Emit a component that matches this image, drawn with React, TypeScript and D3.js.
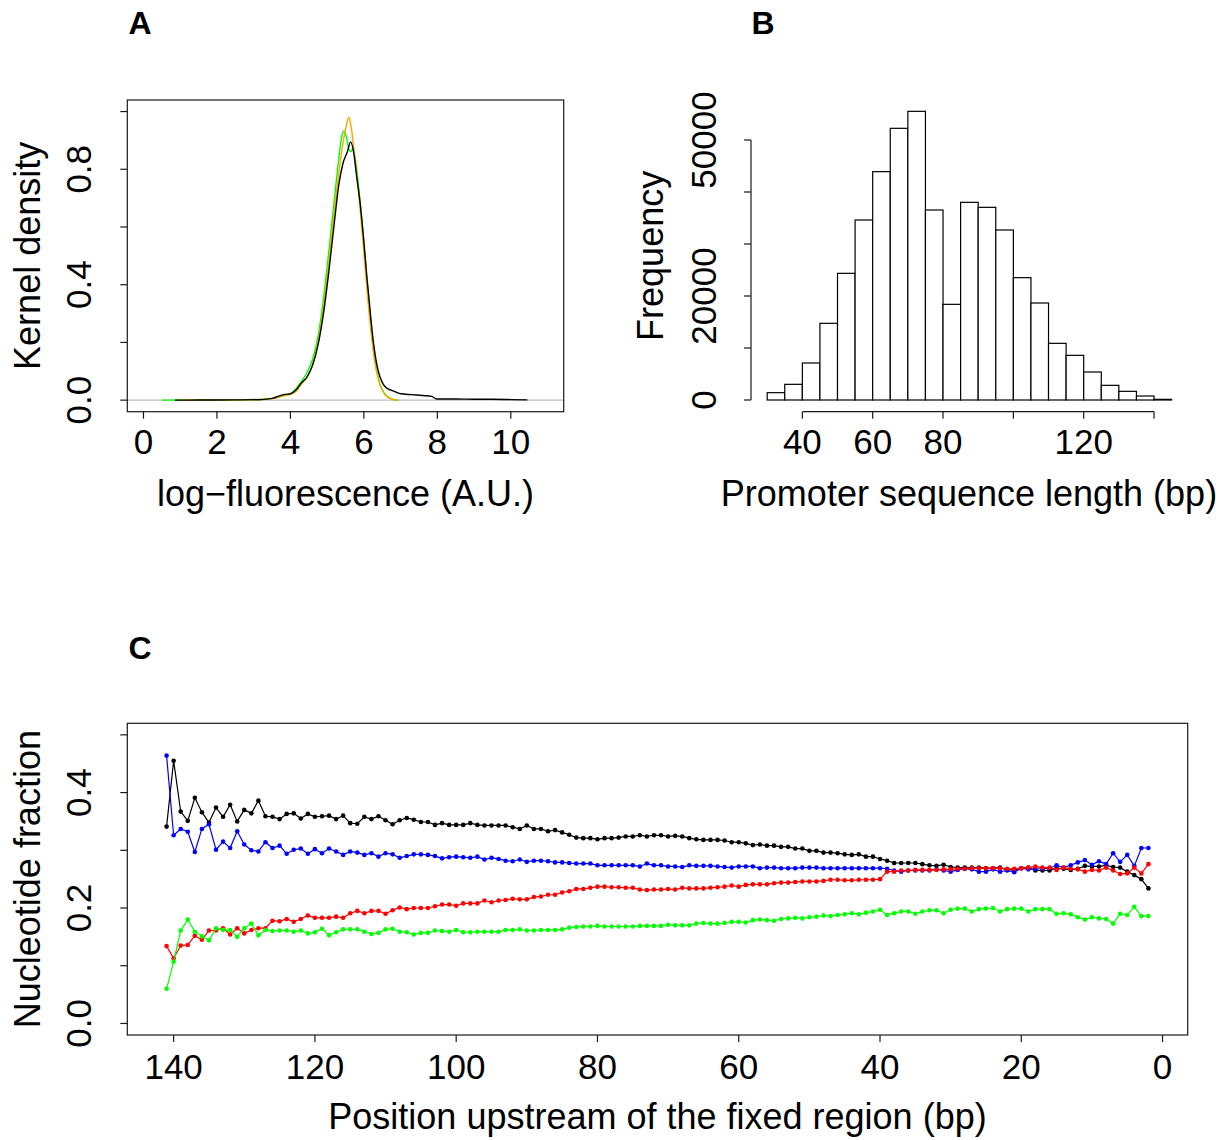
import React from "react";
import * as d3 from "d3";

// ---------- Panel A: kernel densities ----------
const blackDensX = [0.86, 1.5, 2.5, 3.2, 3.5, 3.7, 3.85, 4.0, 4.15, 4.3, 4.45, 4.6, 4.75, 4.9, 5.05, 5.2, 5.31, 5.43, 5.55, 5.64, 5.72, 5.8, 5.9, 6.0, 6.08, 6.17, 6.26, 6.35, 6.44, 6.53, 6.62, 6.8, 7.0, 7.3, 7.6, 7.85, 7.98, 8.5, 9.0, 9.5, 10.0, 10.45];
const blackDensY = [0, 0.0005, 0.001, 0.002, 0.006, 0.015, 0.02, 0.022, 0.035, 0.06, 0.08, 0.12, 0.19, 0.3, 0.45, 0.62, 0.74, 0.82, 0.86, 0.895, 0.86, 0.78, 0.68, 0.55, 0.43, 0.31, 0.2, 0.125, 0.08, 0.055, 0.042, 0.032, 0.022, 0.019, 0.016, 0.013, 0.004, 0.004, 0.003, 0.003, 0.002, 0.001];
const orangeDensX = [1.0, 2.5, 3.3, 3.6, 3.8, 4.0, 4.15, 4.3, 4.45, 4.6, 4.75, 4.9, 5.05, 5.2, 5.34, 5.43, 5.52, 5.59, 5.65, 5.71, 5.8, 5.9, 6.0, 6.1, 6.2, 6.3, 6.4, 6.5, 6.6, 6.75, 6.9];
const orangeDensY = [0, 0.001, 0.003, 0.008, 0.015, 0.02, 0.03, 0.055, 0.08, 0.12, 0.2, 0.32, 0.48, 0.66, 0.81, 0.89, 0.95, 0.98, 0.95, 0.89, 0.786, 0.66, 0.51, 0.36, 0.23, 0.13, 0.07, 0.035, 0.015, 0.004, 0];
const greenDensX = [0.5, 1.5, 2.5, 3.3, 3.6, 3.8, 4.0, 4.15, 4.3, 4.45, 4.6, 4.75, 4.9, 5.05, 5.2, 5.32, 5.4, 5.46, 5.52, 5.58, 5.64, 5.7, 5.76, 5.84, 5.94, 6.04, 6.14, 6.24, 6.34, 6.44, 6.55, 6.7, 6.85, 6.95];
const greenDensY = [0, 0.0005, 0.001, 0.003, 0.008, 0.015, 0.022, 0.04, 0.065, 0.095, 0.14, 0.22, 0.35, 0.52, 0.7, 0.84, 0.915, 0.933, 0.915, 0.875, 0.861, 0.87, 0.84, 0.76, 0.63, 0.48, 0.33, 0.2, 0.11, 0.055, 0.025, 0.008, 0.001, 0];
const aXTicks = [0, 2, 4, 6, 8, 10];
const aYTicks = [0, 0.2, 0.4, 0.6, 0.8, 1.0];
const aYLabels = ["0.0", "", "0.4", "", "0.8", ""];

// ---------- Panel B: histogram ----------
const binStarts = [30, 35, 40, 45, 50, 55, 60, 65, 70, 75, 80, 85, 90, 95, 100, 105, 110, 115, 120, 125, 130, 135, 140];
const binCounts = [1410, 3013, 7115, 14744, 24359, 34615, 43910, 52244, 55513, 36538, 18397, 38013, 37051, 32692, 23526, 18654, 10897, 8590, 5385, 2821, 1667, 769, 128];
const binWidth = 5;
const bXTicks = [40, 60, 80, 100, 120, 140];
const bXLabels = ["40", "60", "80", "", "120", ""];
const bYTicks = [0, 10000, 20000, 30000, 40000, 50000];
const bYLabels = ["0", "", "20000", "", "", "50000"];

// ---------- Panel C: nucleotide fractions, positions 141 -> 2 ----------
const positions = d3.range(141, 1, -1);
const fracBlack = [
  0.341, 0.455, 0.367, 0.351, 0.391, 0.366, 0.348, 0.374, 0.358, 0.379, 0.350, 0.370, 0.364, 0.386, 0.359, 0.358, 0.354, 0.363, 0.364, 0.355, 0.363, 0.358, 0.359, 0.360, 0.354,
  0.360, 0.347, 0.346, 0.358, 0.354, 0.359, 0.352, 0.345, 0.352, 0.356, 0.353, 0.349, 0.349, 0.344, 0.347, 0.344, 0.344, 0.344, 0.347, 0.344, 0.343, 0.343, 0.343, 0.343, 0.340,
  0.337, 0.343, 0.337, 0.337, 0.333, 0.335, 0.331, 0.327, 0.322, 0.321, 0.321, 0.319, 0.321, 0.321, 0.322, 0.324, 0.324, 0.326, 0.324, 0.326, 0.326, 0.324, 0.325, 0.324, 0.321,
  0.319, 0.318, 0.318, 0.318, 0.317, 0.314, 0.314, 0.312, 0.309, 0.310, 0.308, 0.308, 0.306, 0.306, 0.303, 0.303, 0.299, 0.299, 0.296, 0.296, 0.295, 0.293, 0.292, 0.293, 0.289,
  0.289, 0.285, 0.282, 0.278, 0.278, 0.278, 0.278, 0.276, 0.274, 0.273, 0.275, 0.271, 0.270, 0.270, 0.270, 0.270, 0.269, 0.269, 0.270, 0.266, 0.266, 0.269, 0.270, 0.265,
  0.265, 0.265, 0.269, 0.268, 0.266, 0.268, 0.273, 0.272, 0.272, 0.274, 0.271, 0.270, 0.263, 0.257, 0.250, 0.234,
];
const fracBlue = [
  0.464, 0.326, 0.337, 0.332, 0.297, 0.337, 0.345, 0.301, 0.315, 0.304, 0.333, 0.310, 0.300, 0.298, 0.314, 0.304, 0.308, 0.294, 0.301, 0.303, 0.294, 0.302, 0.295, 0.303, 0.298,
  0.292, 0.298, 0.296, 0.292, 0.295, 0.289, 0.295, 0.293, 0.287, 0.290, 0.293, 0.293, 0.292, 0.290, 0.286, 0.288, 0.289, 0.288, 0.287, 0.289, 0.284, 0.287, 0.285, 0.282, 0.281,
  0.284, 0.280, 0.282, 0.282, 0.281, 0.279, 0.279, 0.278, 0.277, 0.277, 0.277, 0.274, 0.274, 0.274, 0.274, 0.274, 0.274, 0.272, 0.277, 0.274, 0.274, 0.272, 0.272, 0.271, 0.274,
  0.273, 0.273, 0.273, 0.272, 0.271, 0.270, 0.272, 0.272, 0.272, 0.269, 0.270, 0.270, 0.269, 0.269, 0.269, 0.270, 0.270, 0.270, 0.269, 0.269, 0.269, 0.269, 0.269, 0.269, 0.269,
  0.269, 0.269, 0.268, 0.265, 0.263, 0.265, 0.265, 0.265, 0.265, 0.267, 0.265, 0.263, 0.266, 0.268, 0.267, 0.263, 0.263, 0.267, 0.263, 0.265, 0.262, 0.269, 0.267, 0.268,
  0.268, 0.269, 0.274, 0.270, 0.274, 0.279, 0.283, 0.275, 0.281, 0.276, 0.295, 0.280, 0.292, 0.273, 0.304, 0.304,
];
const fracRed = [
  0.134, 0.113, 0.135, 0.136, 0.152, 0.145, 0.161, 0.161, 0.165, 0.154, 0.165, 0.156, 0.162, 0.165, 0.165, 0.178, 0.177, 0.181, 0.176, 0.181, 0.187, 0.183, 0.183, 0.183, 0.185,
  0.183, 0.191, 0.195, 0.191, 0.195, 0.195, 0.190, 0.196, 0.201, 0.198, 0.200, 0.200, 0.200, 0.203, 0.206, 0.206, 0.204, 0.208, 0.208, 0.208, 0.213, 0.210, 0.213, 0.214, 0.216,
  0.215, 0.215, 0.219, 0.220, 0.223, 0.223, 0.227, 0.229, 0.233, 0.233, 0.235, 0.237, 0.237, 0.236, 0.236, 0.235, 0.235, 0.232, 0.231, 0.232, 0.232, 0.233, 0.232, 0.235, 0.234,
  0.234, 0.234, 0.235, 0.236, 0.237, 0.239, 0.237, 0.240, 0.241, 0.241, 0.241, 0.243, 0.244, 0.244, 0.245, 0.246, 0.246, 0.246, 0.247, 0.249, 0.249, 0.248, 0.248, 0.249, 0.249,
  0.249, 0.250, 0.263, 0.263, 0.265, 0.265, 0.266, 0.266, 0.266, 0.266, 0.267, 0.267, 0.268, 0.268, 0.269, 0.269, 0.269, 0.269, 0.269, 0.268, 0.268, 0.269, 0.270, 0.272,
  0.270, 0.270, 0.266, 0.270, 0.268, 0.267, 0.263, 0.266, 0.265, 0.270, 0.265, 0.259, 0.260, 0.270, 0.260, 0.276,
];
const fracGreen = [
  0.060, 0.107, 0.161, 0.180, 0.159, 0.151, 0.144, 0.165, 0.162, 0.162, 0.150, 0.165, 0.173, 0.153, 0.162, 0.160, 0.161, 0.161, 0.159, 0.161, 0.156, 0.158, 0.164, 0.153, 0.158,
  0.163, 0.163, 0.163, 0.159, 0.155, 0.157, 0.163, 0.164, 0.159, 0.158, 0.154, 0.157, 0.157, 0.161, 0.160, 0.159, 0.162, 0.158, 0.158, 0.159, 0.159, 0.159, 0.159, 0.162, 0.162,
  0.163, 0.161, 0.161, 0.162, 0.162, 0.162, 0.163, 0.166, 0.167, 0.168, 0.168, 0.169, 0.168, 0.168, 0.168, 0.168, 0.168, 0.169, 0.169, 0.169, 0.169, 0.171, 0.170, 0.170, 0.170,
  0.173, 0.174, 0.173, 0.173, 0.174, 0.176, 0.176, 0.175, 0.179, 0.180, 0.179, 0.178, 0.181, 0.182, 0.183, 0.182, 0.184, 0.185, 0.187, 0.186, 0.188, 0.189, 0.191, 0.189, 0.192,
  0.194, 0.197, 0.188, 0.191, 0.194, 0.194, 0.190, 0.194, 0.196, 0.196, 0.191, 0.197, 0.199, 0.199, 0.194, 0.198, 0.199, 0.200, 0.194, 0.198, 0.199, 0.199, 0.194, 0.198,
  0.198, 0.198, 0.190, 0.191, 0.189, 0.184, 0.180, 0.184, 0.182, 0.181, 0.173, 0.190, 0.188, 0.202, 0.186, 0.186,
];
const cXTicks = [140, 120, 100, 80, 60, 40, 20, 0];
const cYTicks = [0, 0.1, 0.2, 0.3, 0.4, 0.5];
const cYLabels = ["0.0", "", "0.2", "", "0.4", ""];

const FONT = "'Liberation Sans', Arial, Helvetica, sans-serif";
const FS = 35;
const FT = 36;
const TICK = 7;

export default function App() {
  // Panel A scales
  const xA = d3.scaleLinear().domain([-0.44, 11.44]).range([127.3, 563.7]);
  const yA = d3.scaleLinear().domain([-0.04, 1.04]).range([411.7, 100]);
  const densLine = d3
    .line<[number, number]>()
    .x((d) => xA(d[0]))
    .y((d) => yA(d[1]))
    .curve(d3.curveMonotoneX);
  const pairs = (xs: number[], ys: number[]) => xs.map((x, i) => [x, ys[i]] as [number, number]);

  // Panel B scales
  const xB = d3.scaleLinear().domain([25.4, 149.6]).range([751, 1187.8]);
  const yB = d3.scaleLinear().domain([0, 50000]).range([400, 140]);

  // Panel C scales
  const xC = d3.scaleLinear().domain([146.56, -3.56]).range([127.3, 1187.7]);
  const yC = d3.scaleLinear().domain([-0.02, 0.52]).range([1035, 723.3]);
  const cLine = d3
    .line<number>()
    .x((_, i) => xC(positions[i]))
    .y((d) => yC(d));
  const cSeries = [
    { vals: fracBlack, col: "#000000" },
    { vals: fracBlue, col: "#0000FF" },
    { vals: fracRed, col: "#FF0000" },
    { vals: fracGreen, col: "#00FF00" },
  ];

  const axisStroke = "#1a1a1a";

  return (
    <svg
      width={1228}
      height={1140}
      style={{ position: "absolute", left: 0, top: 0, background: "#fff" }}
      fontFamily={FONT}
    >
      <rect x={0} y={0} width={1228} height={1140} fill="#fff" />
      {/* Panel letters */}
      <text x={140} y={34} fontSize={32} fontWeight="bold" textAnchor="middle">A</text>
      <text x={763} y={34} fontSize={32} fontWeight="bold" textAnchor="middle">B</text>
      <text x={140} y={659} fontSize={32} fontWeight="bold" textAnchor="middle">C</text>

      {/* ================= Panel A ================= */}
      <g>
        <line x1={xA.range()[0]} x2={xA.range()[1]} y1={yA(0)} y2={yA(0)} stroke="#bebebe" strokeWidth={1.2} />
        <path d={densLine(pairs(greenDensX, greenDensY)) || ""} fill="none" stroke="#00FF00" strokeWidth={1.4} />
        <path d={densLine(pairs(orangeDensX, orangeDensY)) || ""} fill="none" stroke="#FFA500" strokeWidth={1.4} />
        <path d={densLine(pairs(blackDensX, blackDensY)) || ""} fill="none" stroke="#000" strokeWidth={1.4} />
        <rect x={127.3} y={100} width={563.7 - 127.3} height={411.7 - 100} fill="none" stroke={axisStroke} strokeWidth={1.2} />
        {aXTicks.map((t) => (
          <g key={"ax" + t}>
            <line x1={xA(t)} x2={xA(t)} y1={411.7} y2={411.7 + TICK} stroke={axisStroke} strokeWidth={1.2} />
            <text x={xA(t)} y={454} fontSize={FS} textAnchor="middle">{t}</text>
          </g>
        ))}
        {aYTicks.map((t, i) => (
          <g key={"ay" + i}>
            <line x1={127.3 - TICK} x2={127.3} y1={yA(t)} y2={yA(t)} stroke={axisStroke} strokeWidth={1.2} />
            {aYLabels[i] && (
              <text transform={`translate(91,${yA(t)}) rotate(-90)`} fontSize={FS} textAnchor="middle">{aYLabels[i]}</text>
            )}
          </g>
        ))}
        <text x={345.5} y={506} fontSize={FT} textAnchor="middle">log−fluorescence (A.U.)</text>
        <text transform={`translate(40,${(100 + 411.7) / 2}) rotate(-90)`} fontSize={FT} textAnchor="middle">Kernel density</text>
      </g>

      {/* ================= Panel B ================= */}
      <g>
        {binStarts.map((b, i) => (
          <rect
            key={"bar" + i}
            x={xB(b)}
            y={yB(binCounts[i])}
            width={xB(b + binWidth) - xB(b)}
            height={yB(0) - yB(binCounts[i])}
            fill="#fff"
            stroke="#000"
            strokeWidth={1.2}
          />
        ))}
        <line x1={xB(40)} x2={xB(140)} y1={411.7} y2={411.7} stroke={axisStroke} strokeWidth={1.2} />
        {bXTicks.map((t, i) => (
          <g key={"bx" + t}>
            <line x1={xB(t)} x2={xB(t)} y1={411.7} y2={411.7 + TICK} stroke={axisStroke} strokeWidth={1.2} />
            {bXLabels[i] && (
              <text x={xB(t)} y={454} fontSize={FS} textAnchor="middle">{bXLabels[i]}</text>
            )}
          </g>
        ))}
        <line x1={751} x2={751} y1={yB(0)} y2={yB(50000)} stroke={axisStroke} strokeWidth={1.2} />
        {bYTicks.map((t, i) => (
          <g key={"by" + t}>
            <line x1={751 - TICK} x2={751} y1={yB(t)} y2={yB(t)} stroke={axisStroke} strokeWidth={1.2} />
            {bYLabels[i] && (
              <text transform={`translate(716,${yB(t)}) rotate(-90)`} fontSize={FS} textAnchor="middle">{bYLabels[i]}</text>
            )}
          </g>
        ))}
        <text x={969} y={506} fontSize={FT} textAnchor="middle">Promoter sequence length (bp)</text>
        <text transform={`translate(663,${(100 + 411.7) / 2}) rotate(-90)`} fontSize={FT} textAnchor="middle">Frequency</text>
      </g>

      {/* ================= Panel C ================= */}
      <g>
        {cSeries.map((s, k) => (
          <g key={"cs" + k}>
            <path d={cLine(s.vals) || ""} fill="none" stroke={s.col} strokeWidth={1.2} />
            {s.vals.map((v, i) => (
              <circle key={i} cx={xC(positions[i])} cy={yC(v)} r={2.3} fill={s.col} />
            ))}
          </g>
        ))}
        <rect x={127.3} y={723.3} width={1187.7 - 127.3} height={1035 - 723.3} fill="none" stroke={axisStroke} strokeWidth={1.2} />
        {cXTicks.map((t) => (
          <g key={"cx" + t}>
            <line x1={xC(t)} x2={xC(t)} y1={1035} y2={1035 + TICK} stroke={axisStroke} strokeWidth={1.2} />
            <text x={xC(t)} y={1079} fontSize={FS} textAnchor="middle">{t}</text>
          </g>
        ))}
        {cYTicks.map((t, i) => (
          <g key={"cy" + i}>
            <line x1={127.3 - TICK} x2={127.3} y1={yC(t)} y2={yC(t)} stroke={axisStroke} strokeWidth={1.2} />
            {cYLabels[i] && (
              <text transform={`translate(91,${yC(t)}) rotate(-90)`} fontSize={FS} textAnchor="middle">{cYLabels[i]}</text>
            )}
          </g>
        ))}
        <text x={657.5} y={1129} fontSize={FT} textAnchor="middle">Position upstream of the fixed region (bp)</text>
        <text transform={`translate(40,${(723.3 + 1035) / 2}) rotate(-90)`} fontSize={FT} textAnchor="middle">Nucleotide fraction</text>
      </g>
    </svg>
  );
}
